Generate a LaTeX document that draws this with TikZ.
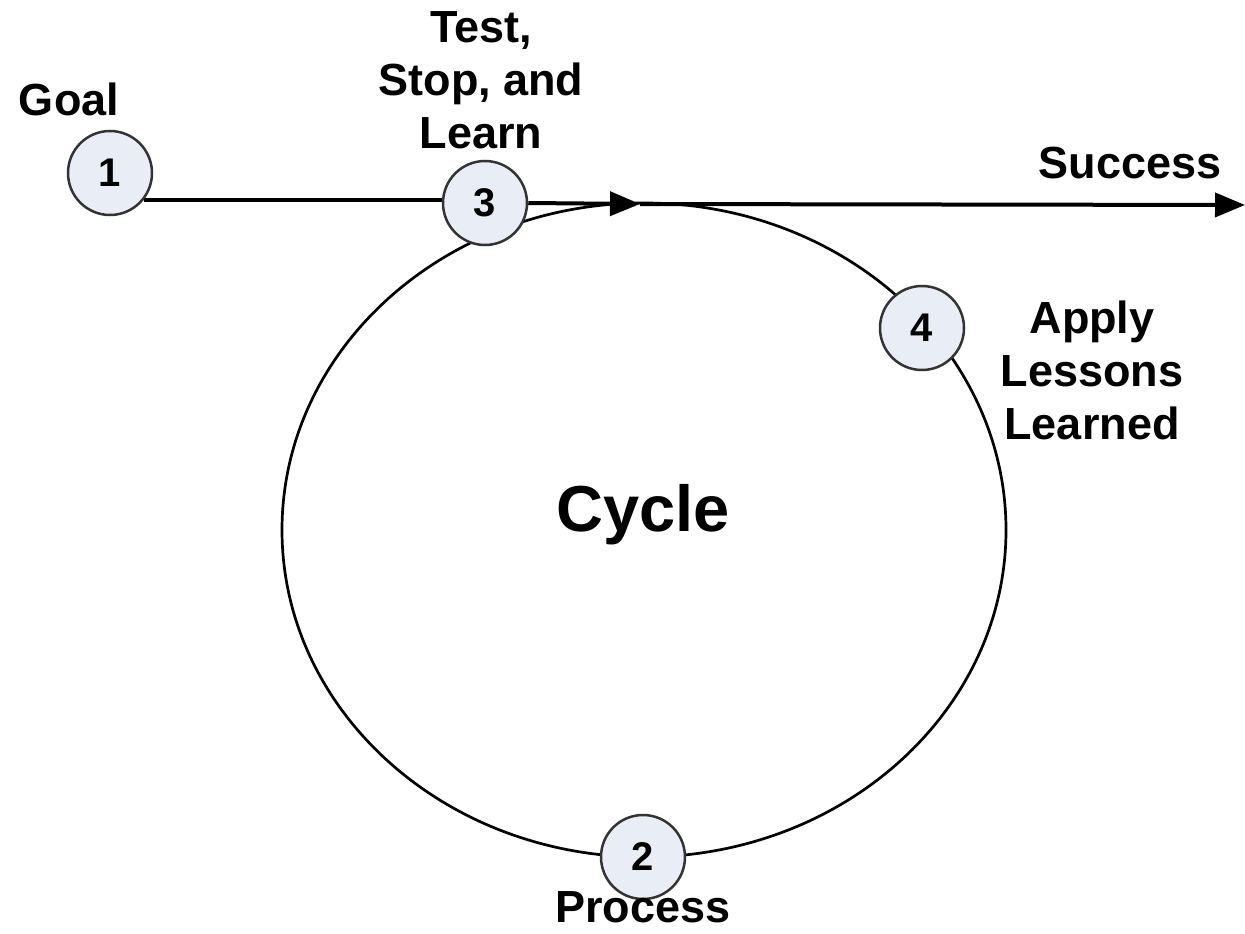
\documentclass[tikz,border=0pt]{standalone}
\usepackage{fontspec}
\setmainfont{Liberation Sans}
\usetikzlibrary{arrows.meta,backgrounds}
\definecolor{circfill}{HTML}{E9EEF6}
\definecolor{circline}{HTML}{333333}
\tikzset{
  stepcirc/.style={circle, draw=circline, line width=2.5pt, fill=circfill,
    minimum size=84pt, inner sep=0pt, font=\fontsize{40}{48}\selectfont\bfseries},
  lbl/.style={inner sep=0pt, align=center, font=\fontsize{45}{53}\selectfont\bfseries},
  mainline/.style={line width=4pt, draw=black},
  tri/.style={-{Triangle[length=30pt,width=24pt]}}
}
\begin{document}
\begin{tikzpicture}[x=1pt,y=-1pt]
\useasboundingbox (0,0) rectangle (1245,934);
\coordinate (top) at (640,204);
\coordinate (end) at (1245,205);
% circles
\node[stepcirc] (c1) at (110,173) {1};
\node[stepcirc] (c3) at (485,203) {3};
\node[stepcirc] (c4) at (922,328) {4};
\node[stepcirc] (c2) at (643,857) {2};
% cycle and connectors behind the circles
\begin{scope}[on background layer]
\draw[line width=2.7pt] (644,530) ellipse [x radius=362pt, y radius=327pt];
\draw[mainline] (c1.-38) -- (c1.-38 -| c3.west);
\draw[mainline,tri] (c3.east) -- (top);
\draw[mainline,tri] (top) -- (end);
\end{scope}
% labels
\node[lbl, anchor=base] (goal) at (69,115) {Goal};
\node[lbl, anchor=north] (tsl) at (481,11) {Test,\\Stop, and\\Learn};
\node[lbl, anchor=base] (succ) at (1130,178) {Success};
\node[lbl, anchor=north] (all) at (1092,301) {Apply\\Lessons\\Learned};
\node[inner sep=0pt, font=\fontsize{65}{70}\selectfont\bfseries, anchor=base] (cyc) at (643,531) {Cycle};
\node[lbl, anchor=base] (proc) at (643,922) {Process};
\end{tikzpicture}
\end{document}
